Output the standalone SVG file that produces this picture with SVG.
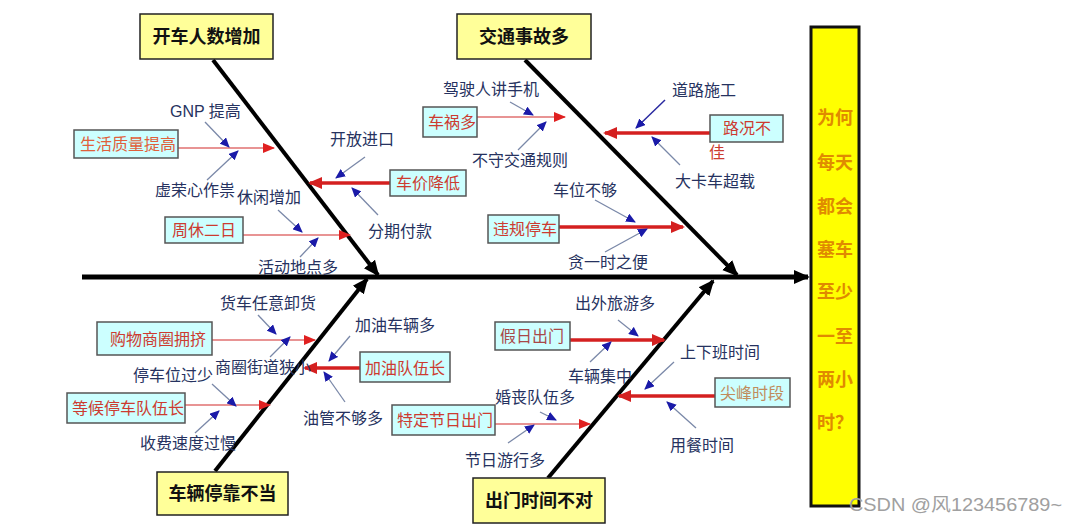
<svg xmlns="http://www.w3.org/2000/svg" width="1080" height="529" viewBox="0 0 1080 529">
<style>
.main{fill:#ffff99;stroke:#222;stroke-width:1.5}
.mt{font-family:"Liberation Sans","Noto Sans CJK SC",sans-serif;font-size:18px;font-weight:bold;fill:#111;text-anchor:middle}
.sub{fill:#ccffff;stroke:#555;stroke-width:1.5}
.st{font-family:"Liberation Sans","Noto Sans CJK SC",sans-serif;font-size:16px;fill:#cc3b30}
.ct{font-family:"Liberation Sans","Noto Sans CJK SC",sans-serif;font-size:16px;fill:#263260}
.bone{stroke:#000;stroke-width:4;fill:none}
.thin{stroke:#e07070;stroke-width:1.6;fill:none}
.thick{stroke:#d42020;stroke-width:3.5;fill:none}
.ca{stroke:#7a88a8;stroke-width:1.3;fill:none}
.qt{font-family:"Liberation Sans","Noto Sans CJK SC",sans-serif;font-size:18px;font-weight:bold;fill:#e08a00}
</style>
<defs>
<marker id="mb" markerUnits="userSpaceOnUse" markerWidth="16" markerHeight="16" refX="14" refY="8" orient="auto"><path d="M0,1 L16,8 L0,15 z" fill="#000"/></marker>
<marker id="mr" markerUnits="userSpaceOnUse" markerWidth="12" markerHeight="10" refX="11" refY="5" orient="auto"><path d="M0,0 L12,5 L0,10 z" fill="#e02020"/></marker>
<marker id="mR" markerUnits="userSpaceOnUse" markerWidth="14" markerHeight="12" refX="12" refY="6" orient="auto"><path d="M0,0 L14,6 L0,12 z" fill="#d42020"/></marker>
<marker id="mu" markerUnits="userSpaceOnUse" markerWidth="10" markerHeight="9" refX="9" refY="4.5" orient="auto"><path d="M0,0 L10,4.5 L0,9 z" fill="#1a1aa8"/></marker>
</defs>
<rect width="1080" height="529" fill="#fff"/>

<g id="connectors">
<line x1="82" y1="277" x2="808" y2="277" stroke="#000" stroke-width="5" marker-end="url(#mb)"/>
<line class="bone" x1="213" y1="60" x2="378" y2="275" marker-end="url(#mb)"/>
<line class="bone" x1="525" y1="60" x2="737" y2="275" marker-end="url(#mb)"/>
<line class="bone" x1="215" y1="471" x2="367" y2="279" marker-end="url(#mb)"/>
<line class="bone" x1="548" y1="478" x2="713" y2="281" marker-end="url(#mb)"/>

<line class="thin" x1="178" y1="148" x2="274" y2="148" marker-end="url(#mr)"/>
<line class="ca" x1="205" y1="122" x2="229" y2="147" marker-end="url(#mu)"/>
<line class="ca" x1="207" y1="180" x2="238" y2="151" marker-end="url(#mu)"/>
<line class="thick" x1="390" y1="183" x2="310" y2="183" marker-end="url(#mR)"/>
<line class="ca" x1="365" y1="157" x2="336" y2="178" marker-end="url(#mu)"/>
<line class="ca" x1="378" y1="215" x2="352" y2="188" marker-end="url(#mu)"/>
<line class="thin" x1="243" y1="235" x2="350" y2="235" marker-end="url(#mr)"/>
<line class="ca" x1="278" y1="210" x2="302" y2="232" marker-end="url(#mu)"/>
<line class="ca" x1="300" y1="257" x2="318" y2="238" marker-end="url(#mu)"/>

<line class="thin" x1="477" y1="117" x2="565" y2="117" marker-end="url(#mr)"/>
<line class="ca" x1="510" y1="102" x2="533" y2="115" marker-end="url(#mu)"/>
<line class="ca" x1="518" y1="150" x2="546" y2="122" marker-end="url(#mu)"/>
<line class="thick" x1="710" y1="133" x2="605" y2="133" marker-end="url(#mR)"/>
<line x1="665" y1="100" x2="636" y2="128" stroke="#2a2aa0" stroke-width="1.5" marker-end="url(#mu)"/>
<line class="ca" x1="680" y1="165" x2="652" y2="137" marker-end="url(#mu)"/>
<line class="thick" x1="559" y1="227" x2="683" y2="227" marker-end="url(#mR)"/>
<line class="ca" x1="595" y1="200" x2="635" y2="222" marker-end="url(#mu)"/>
<line class="ca" x1="605" y1="252" x2="647" y2="229" marker-end="url(#mu)"/>

<line class="thin" x1="212" y1="340" x2="315" y2="340" marker-end="url(#mr)"/>
<line class="ca" x1="258" y1="315" x2="276" y2="334" marker-end="url(#mu)"/>
<line class="ca" x1="270" y1="357" x2="290" y2="337" marker-end="url(#mu)"/>
<line class="thick" x1="360" y1="368" x2="305" y2="368" marker-end="url(#mR)"/>
<line class="ca" x1="350" y1="336" x2="329" y2="361" marker-end="url(#mu)"/>
<line class="ca" x1="345" y1="402" x2="324" y2="372" marker-end="url(#mu)"/>
<line class="thin" x1="185" y1="405" x2="270" y2="405" marker-end="url(#mr)"/>
<line class="ca" x1="212" y1="384" x2="236" y2="406" marker-end="url(#mu)"/>
<line class="ca" x1="195" y1="433" x2="219" y2="411" marker-end="url(#mu)"/>

<line class="thick" x1="570" y1="340" x2="664" y2="340" marker-end="url(#mR)"/>
<line class="ca" x1="618" y1="320" x2="638" y2="336" marker-end="url(#mu)"/>
<line class="ca" x1="590" y1="362" x2="611" y2="342" marker-end="url(#mu)"/>
<line class="thick" x1="715" y1="396" x2="619" y2="396" marker-end="url(#mR)"/>
<line class="ca" x1="674" y1="362" x2="645" y2="389" marker-end="url(#mu)"/>
<line class="ca" x1="696" y1="428" x2="667" y2="402" marker-end="url(#mu)"/>
<line class="thin" x1="495" y1="424" x2="590" y2="424" marker-end="url(#mr)"/>
<line class="ca" x1="540" y1="412" x2="556" y2="420" marker-end="url(#mu)"/>
<line class="ca" x1="508" y1="443" x2="534" y2="425" marker-end="url(#mu)"/>
</g>

<g id="n-kaiche"><rect class="main" x="140" y="14" width="133" height="45"/><text class="mt" x="206.5" y="43">开车人数增加</text></g>
<g id="n-jiaotong"><rect class="main" x="457" y="14" width="134" height="45"/><text class="mt" x="524" y="43">交通事故多</text></g>
<g id="n-tingkao"><rect class="main" x="157" y="472" width="131" height="43"/><text class="mt" x="222.5" y="500">车辆停靠不当</text></g>
<g id="n-chumen"><rect class="main" x="473" y="478" width="132" height="45"/><text class="mt" x="539" y="507">出门时间不对</text></g>

<g id="n-result">
<rect x="811" y="27" width="48" height="479" fill="#ffff00" stroke="#111" stroke-width="3"/>
<text class="qt" x="817" y="124">为何</text>
<text class="qt" x="817" y="169">每天</text>
<text class="qt" x="817" y="213">都会</text>
<text class="qt" x="817" y="256">塞车</text>
<text class="qt" x="817" y="298">至少</text>
<text class="qt" x="817" y="343">一至</text>
<text class="qt" x="817" y="386">两小</text>
<text class="qt" x="817" y="429">时？</text>
</g>

<g id="n-shenghuo"><rect class="sub" x="74" y="130" width="104" height="28"/><text class="st" x="80" y="150" style="fill:#e0603a">生活质量提高</text></g>
<g id="c-gnp"><text class="ct" x="170" y="117">GNP 提高</text></g>
<g id="c-xurong"><text class="ct" x="155" y="196">虚荣心作祟</text></g>
<g id="n-chejia"><rect class="sub" x="390" y="170" width="76" height="26"/><text class="st" x="396" y="189">车价降低</text></g>
<g id="c-kaifang"><text class="ct" x="330" y="145">开放进口</text></g>
<g id="c-fenqi"><text class="ct" x="368" y="237">分期付款</text></g>
<g id="n-zhouxiu"><rect class="sub" x="165" y="217" width="78" height="26"/><text class="st" x="172" y="236">周休二日</text></g>
<g id="c-xiuxian"><text class="ct" x="237" y="203">休闲增加</text></g>
<g id="c-huodong"><text class="ct" x="258" y="273">活动地点多</text></g>

<g id="n-chehuo"><rect class="sub" x="423" y="107" width="54" height="30"/><text class="st" x="428" y="128">车祸多</text></g>
<g id="c-shouji"><text class="ct" x="443" y="95">驾驶人讲手机</text></g>
<g id="c-bushou"><text class="ct" x="472" y="166">不守交通规则</text></g>
<g id="n-lukuang"><rect class="sub" x="710" y="115" width="73" height="27"/><text class="st" x="723" y="134">路况不</text><text class="st" x="709" y="158">佳</text></g>
<g id="c-daolu"><text class="ct" x="672" y="96">道路施工</text></g>
<g id="c-dakache"><text class="ct" x="675" y="187">大卡车超载</text></g>
<g id="n-weigui"><rect class="sub" x="488" y="215" width="71" height="28"/><text class="st" x="493" y="235">违规停车</text></g>
<g id="c-chewei"><text class="ct" x="553" y="196">车位不够</text></g>
<g id="c-tanyi"><text class="ct" x="568" y="268">贪一时之便</text></g>

<g id="n-gouwu"><rect class="sub" x="97" y="322" width="115" height="33"/><text class="st" x="110" y="345">购物商圈拥挤</text></g>
<g id="c-huoche"><text class="ct" x="220" y="309">货车任意卸货</text></g>
<g id="c-shangquan"><text class="ct" x="215" y="373">商圈街道狭小</text></g>
<g id="n-jiayou"><rect class="sub" x="360" y="352" width="90" height="30"/><text class="st" x="365" y="374">加油队伍长</text></g>
<g id="c-jiayouche"><text class="ct" x="355" y="331">加油车辆多</text></g>
<g id="c-youguan"><text class="ct" x="303" y="424">油管不够多</text></g>
<g id="n-denghou"><rect class="sub" x="67" y="393" width="118" height="30"/><text class="st" x="72" y="414">等候停车队伍长</text></g>
<g id="c-tingchewei"><text class="ct" x="133" y="381">停车位过少</text></g>
<g id="c-shoufei"><text class="ct" x="140" y="449">收费速度过慢</text></g>

<g id="n-jiari"><rect class="sub" x="495" y="322" width="75" height="28"/><text class="st" x="500" y="342" style="fill:#a84848">假日出门</text></g>
<g id="c-chuwai"><text class="ct" x="575" y="309">出外旅游多</text></g>
<g id="c-cheliang"><text class="ct" x="568" y="382">车辆集中</text></g>
<g id="n-jianfeng"><rect class="sub" x="715" y="378" width="75" height="29"/><text class="st" x="720" y="399" style="fill:#c08c5c">尖峰时段</text></g>
<g id="c-shangxia"><text class="ct" x="680" y="358">上下班时间</text></g>
<g id="c-yongcan"><text class="ct" x="670" y="451">用餐时间</text></g>
<g id="n-teding"><rect class="sub" x="392" y="405" width="103" height="30"/><text class="st" x="397" y="426">特定节日出门</text></g>
<g id="c-hunsang"><text class="ct" x="495" y="403">婚丧队伍多</text></g>
<g id="c-jieri"><text class="ct" x="465" y="466">节日游行多</text></g>

<text x="849" y="511" font-family="Liberation Sans, Noto Sans CJK SC, sans-serif" font-size="18" fill="#a0a0a0" textLength="213" lengthAdjust="spacingAndGlyphs">CSDN @风123456789~</text>
</svg>
